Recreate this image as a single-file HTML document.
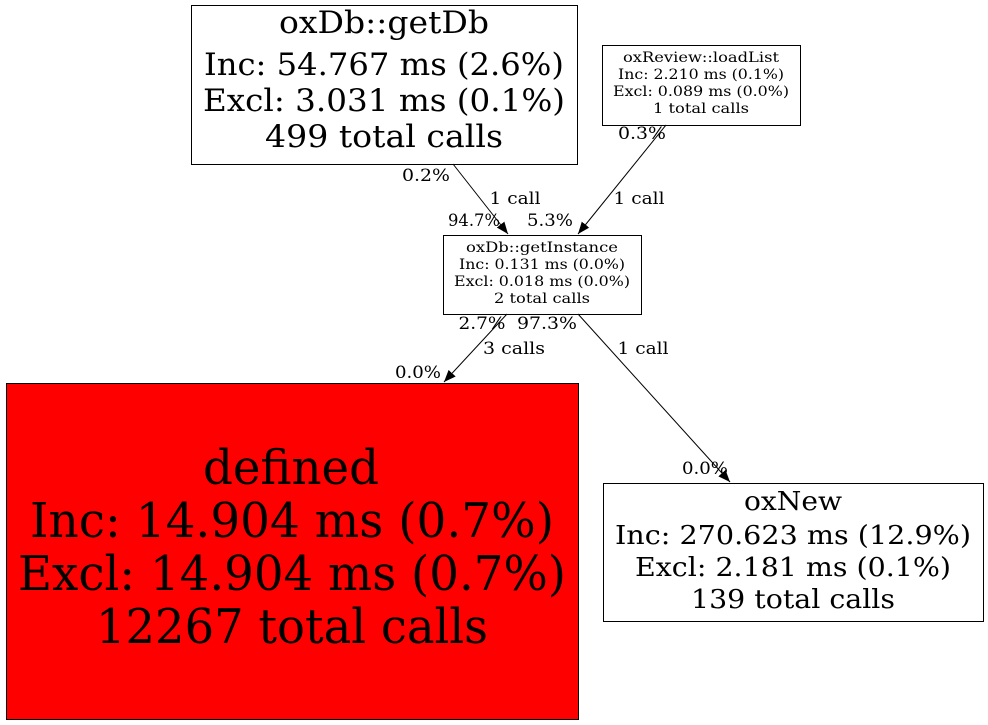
<!DOCTYPE html>
<html><head><meta charset="utf-8"><style>html,body{margin:0;padding:0;background:#fff}svg{display:block}</style></head>
<body>
<svg width="988" height="725" viewBox="0 0 988 725" xmlns="http://www.w3.org/2000/svg" font-family="'DejaVu Serif','Liberation Serif',serif" text-anchor="middle" fill="#000">
<defs><marker id="a" viewBox="0 0 10 10" refX="10" refY="5" markerWidth="12" markerHeight="12" markerUnits="userSpaceOnUse" orient="auto"><path d="M0,1 L10,5 L0,9 z" fill="#000"/></marker></defs>
<rect x="191.5" y="5.5" width="386" height="159" fill="#fff" stroke="#000"/>
<g font-size="31">
<text x="384" y="33" textLength="210" lengthAdjust="spacingAndGlyphs">oxDb::getDb</text>
<text x="384" y="75" textLength="360" lengthAdjust="spacingAndGlyphs">Inc: 54.767 ms (2.6%)</text>
<text x="384" y="111" textLength="362" lengthAdjust="spacingAndGlyphs">Excl: 3.031 ms (0.1%)</text>
<text x="384" y="147" textLength="238" lengthAdjust="spacingAndGlyphs">499 total calls</text>
</g>
<rect x="602.5" y="45.5" width="198" height="80" fill="#fff" stroke="#000"/>
<g font-size="14">
<text x="701" y="62" textLength="156" lengthAdjust="spacingAndGlyphs">oxReview::loadList</text>
<text x="701" y="79" textLength="166" lengthAdjust="spacingAndGlyphs">Inc: 2.210 ms (0.1%)</text>
<text x="701" y="96" textLength="176" lengthAdjust="spacingAndGlyphs">Excl: 0.089 ms (0.0%)</text>
<text x="701" y="113" textLength="96" lengthAdjust="spacingAndGlyphs">1 total calls</text>
</g>
<rect x="443.5" y="235.5" width="198" height="79" fill="#fff" stroke="#000"/>
<g font-size="14">
<text x="542" y="252" textLength="152" lengthAdjust="spacingAndGlyphs">oxDb::getInstance</text>
<text x="542" y="269" textLength="166" lengthAdjust="spacingAndGlyphs">Inc: 0.131 ms (0.0%)</text>
<text x="542" y="286" textLength="176" lengthAdjust="spacingAndGlyphs">Excl: 0.018 ms (0.0%)</text>
<text x="542" y="303" textLength="96" lengthAdjust="spacingAndGlyphs">2 total calls</text>
</g>
<rect x="6.5" y="383.5" width="572" height="336" fill="#f00" stroke="#000"/>
<g font-size="48">
<text x="291" y="484" textLength="176" lengthAdjust="spacingAndGlyphs">defined</text>
<text x="292" y="537" textLength="524" lengthAdjust="spacingAndGlyphs">Inc: 14.904 ms (0.7%)</text>
<text x="292" y="590" textLength="548" lengthAdjust="spacingAndGlyphs">Excl: 14.904 ms (0.7%)</text>
<text x="292" y="643" textLength="392" lengthAdjust="spacingAndGlyphs">12267 total calls</text>
</g>
<rect x="603.5" y="483.5" width="380" height="138" fill="#fff" stroke="#000"/>
<g font-size="26">
<text x="793" y="510" textLength="98" lengthAdjust="spacingAndGlyphs">oxNew</text>
<text x="793" y="544" textLength="356" lengthAdjust="spacingAndGlyphs">Inc: 270.623 ms (12.9%)</text>
<text x="793" y="576" textLength="316" lengthAdjust="spacingAndGlyphs">Excl: 2.181 ms (0.1%)</text>
<text x="793" y="608" textLength="204" lengthAdjust="spacingAndGlyphs">139 total calls</text>
</g>
<g stroke="#000" stroke-width="1" fill="none">
<line x1="453" y1="164" x2="508" y2="234" marker-end="url(#a)"/>
<line x1="666" y1="125" x2="578" y2="234" marker-end="url(#a)"/>
<line x1="507" y1="314" x2="444" y2="382" marker-end="url(#a)"/>
<line x1="578" y1="314" x2="730" y2="482" marker-end="url(#a)"/>
</g>
<g font-size="17">
<text x="426" y="181" textLength="48" lengthAdjust="spacingAndGlyphs">0.2%</text>
<text x="515" y="204" textLength="51" lengthAdjust="spacingAndGlyphs">1 call</text>
<text x="474" y="226" textLength="52" lengthAdjust="spacingAndGlyphs">94.7%</text>
<text x="642" y="139" textLength="48" lengthAdjust="spacingAndGlyphs">0.3%</text>
<text x="639" y="204" textLength="51" lengthAdjust="spacingAndGlyphs">1 call</text>
<text x="550" y="226" textLength="46" lengthAdjust="spacingAndGlyphs">5.3%</text>
<text x="482" y="329" textLength="47" lengthAdjust="spacingAndGlyphs">2.7%</text>
<text x="514" y="354" textLength="62" lengthAdjust="spacingAndGlyphs">3 calls</text>
<text x="418" y="378" textLength="46" lengthAdjust="spacingAndGlyphs">0.0%</text>
<text x="547" y="329" textLength="60" lengthAdjust="spacingAndGlyphs">97.3%</text>
<text x="643" y="354" textLength="51" lengthAdjust="spacingAndGlyphs">1 call</text>
<text x="705" y="474" textLength="46" lengthAdjust="spacingAndGlyphs">0.0%</text>
</g>
</svg>
</body></html>
